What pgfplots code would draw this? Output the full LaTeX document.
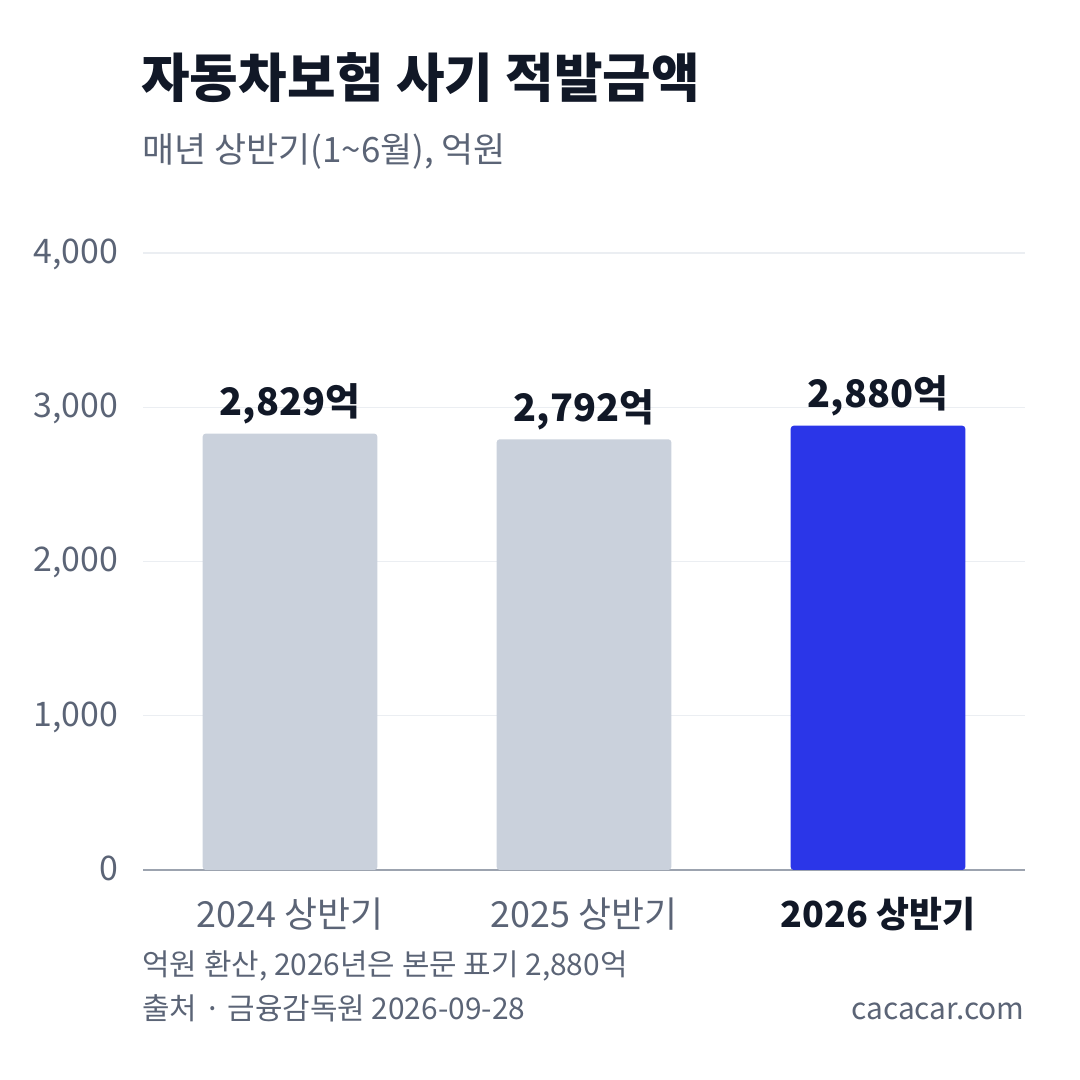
\documentclass[border=0pt]{standalone}
\usepackage{fontspec}
\setmainfont{Noto Sans CJK KR}
\usepackage{pgfplots}
\pgfplotsset{compat=1.18}

\definecolor{ink}{HTML}{111827}
\definecolor{muted}{HTML}{5B6476}
\definecolor{bargray}{HTML}{CAD1DC}
\definecolor{barblue}{HTML}{2B36E8}
\definecolor{axisgray}{HTML}{9CA3AF}
\definecolor{gridgray}{HTML}{EBEEF2}

\begin{document}
\begin{tikzpicture}[x=0.5bp,y=0.5bp]
% page, in px of the 1080 image (y up)
\path (0,0) rectangle (1080,1080);

\node[anchor=base west, inner sep=0, text=ink, font=\fontsize{26.5}{30}\selectfont\bfseries] at (141,1080-98) {자동차보험 사기 적발금액};
\node[anchor=base west, inner sep=0, text=muted, font=\fontsize{17.5}{20}\selectfont] at (142,1080-163) {매년 상반기(1\textasciitilde 6월), 억원};

\begin{axis}[
    at={(71.5bp,105bp)}, anchor=south west,
    scale only axis, width=441bp, height=308.5bp,
    xmin=-0.5, xmax=2.5, ymin=0, ymax=4000,
    ybar, bar width=0.594, bar shift=0pt,
    axis y line*=left, axis x line*=bottom,
    y axis line style={draw=none},
    x axis line style={axisgray, line width=1bp, -},
    ytick={0,1000,2000,3000,4000},
    ymajorgrids, grid style={gridgray, line width=0.7bp},
    major tick length=0pt,
    xtick={0,1,2},
    xticklabels={2024 상반기, 2025 상반기, {\color{ink}\bfseries 2026 상반기}},
    xticklabel style={anchor=base, yshift=-29bp, text=muted, font=\fontsize{18}{21}\selectfont},
    yticklabel style={anchor=mid east, xshift=-9bp, yshift=-2.5bp, text=muted, font=\fontsize{17}{20}\selectfont},
    /pgf/number format/.cd, 1000 sep={,}, assume math mode=true,
    /pgfplots/.cd,
    nodes near coords={\pgfmathprintnumber{\pgfplotspointmeta}억},
    nodes near coords style={anchor=base, yshift=9bp, text=ink, font=\fontsize{19}{22}\selectfont\bfseries},
    clip=false,
]
\addplot[draw=none, fill=bargray, rounded corners=1.5bp] coordinates {(0,2829)};
\addplot[draw=none, fill=bargray, rounded corners=1.5bp] coordinates {(1,2792)};
\addplot[draw=none, fill=barblue, rounded corners=1.5bp] coordinates {(2,2880)};
\end{axis}

\node[anchor=base west, inner sep=0, text=muted, font=\fontsize{15}{18}\selectfont] at (142,1080-975) {억원 환산, 2026년은 본문 표기 2,880억};
\node[anchor=base west, inner sep=0, text=muted, font=\fontsize{15}{18}\selectfont] at (142,1080-1020) {출처 · 금융감독원 2026-09-28};
\node[anchor=base east, inner sep=0, text=muted, font=\fontsize{15}{18}\selectfont] at (1025,1080-1020) {cacacar.com};
\end{tikzpicture}
\end{document}
